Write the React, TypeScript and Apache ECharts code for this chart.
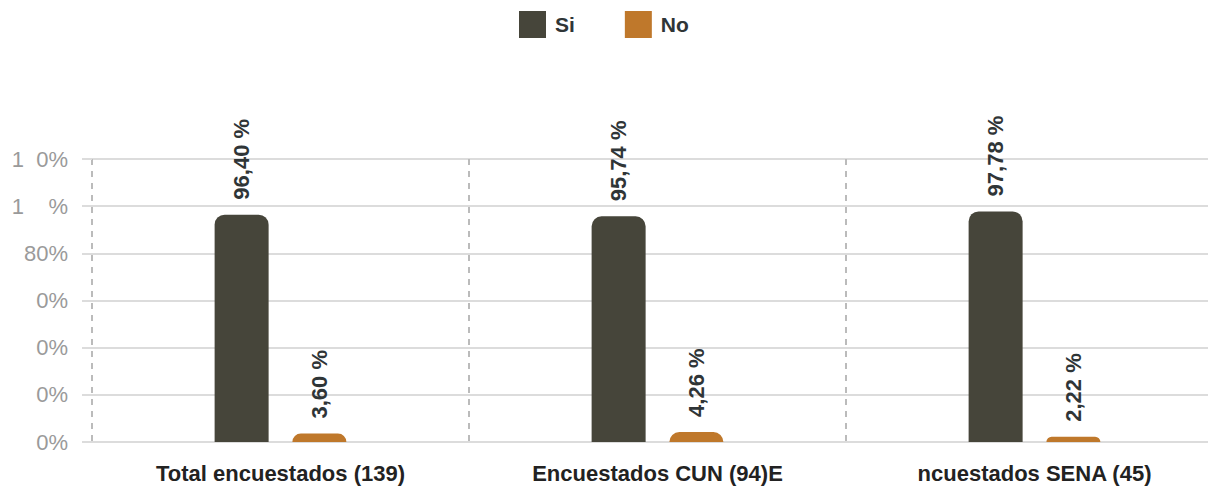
import React, { useEffect, useRef } from "react";
import * as echarts from "echarts";

const categories = ["Total encuestados (139)", "Encuestados CUN (94)E", "ncuestados SENA (45)"];
const siValues = [96.4, 95.74, 97.78];
const noValues = [3.6, 4.26, 2.22];
const yTickLabels = ["0%", "0%", "0%", "0%", "80%", "1\u2007\u2007%", "1\u20070%"];

const fmt = (v: number) => v.toFixed(2).replace(".", ",") + " %";

export default function App() {
  const ref = useRef<HTMLDivElement>(null);
  useEffect(() => {
    if (!ref.current) return;
    const chart = echarts.init(ref.current, undefined, { renderer: "svg" });
    const labelStyle = {
      show: true,
      position: "top" as const,
      rotate: 90,
      align: "left" as const,
      verticalAlign: "middle" as const,
      distance: 15,
      fontSize: 22,
      fontWeight: "bold" as const,
      fontFamily: "Liberation Sans, Arial, sans-serif",
      color: "#2f3537",
      formatter: (p: any) => fmt(p.value),
    };
    chart.setOption({
      animation: false,
      legend: {
        top: 11,
        left: 519,
        padding: 0,
        icon: "rect",
        itemWidth: 27,
        itemHeight: 27,
        itemGap: 50,
        textStyle: {
          fontSize: 21,
          fontWeight: "bold",
          color: "#2f3537",
          fontFamily: "Liberation Sans, Arial, sans-serif",
          padding: [0, 0, 0, 4],
        },
        data: ["Si", "No"],
      },
      grid: { left: 92, right: 0, top: 159, bottom: 45, containLabel: false },
      xAxis: {
        type: "category",
        data: categories,
        boundaryGap: true,
        axisLine: { show: true, lineStyle: { color: "#dcdcdc", width: 2 } },
        axisTick: { show: false },
        splitLine: { show: true, lineStyle: { color: "#bbbbbb", type: [6, 6], width: 2 } },
        axisLabel: {
          margin: 20,
          fontSize: 22,
          fontWeight: "bold",
          color: "#222222",
          fontFamily: "Liberation Sans, Arial, sans-serif",
        },
      },
      yAxis: {
        type: "value",
        min: 0,
        max: 120,
        interval: 20,
        axisLine: { show: false },
        axisTick: { show: true, length: 10, lineStyle: { color: "#dcdcdc", width: 2 } },
        splitLine: { show: true, lineStyle: { color: "#dcdcdc", width: 2 } },
        axisLabel: {
          margin: 24,
          fontSize: 22,
          color: "#9a9a9a",
          fontFamily: "Liberation Sans, Arial, sans-serif",
          formatter: (v: number) => yTickLabels[Math.round(v / 20)] ?? "",
        },
      },
      series: [
        {
          name: "Si",
          type: "bar",
          data: siValues,
          barWidth: 54,
          barGap: "44%",
          itemStyle: { color: "#46453a", borderRadius: [10, 10, 0, 0] },
          label: labelStyle,
        },
        {
          name: "No",
          type: "bar",
          data: noValues,
          barWidth: 54,
          itemStyle: { color: "#bf782b", borderRadius: [10, 10, 0, 0] },
          label: labelStyle,
        },
      ],
    });
    return () => chart.dispose();
  }, []);
  return (
    <div style={{ width: 1208, height: 487, position: "absolute", left: 0, top: 0, overflow: "hidden" }}>
      <div ref={ref} style={{ width: 1223, height: 487 }} />
    </div>
  );
}
